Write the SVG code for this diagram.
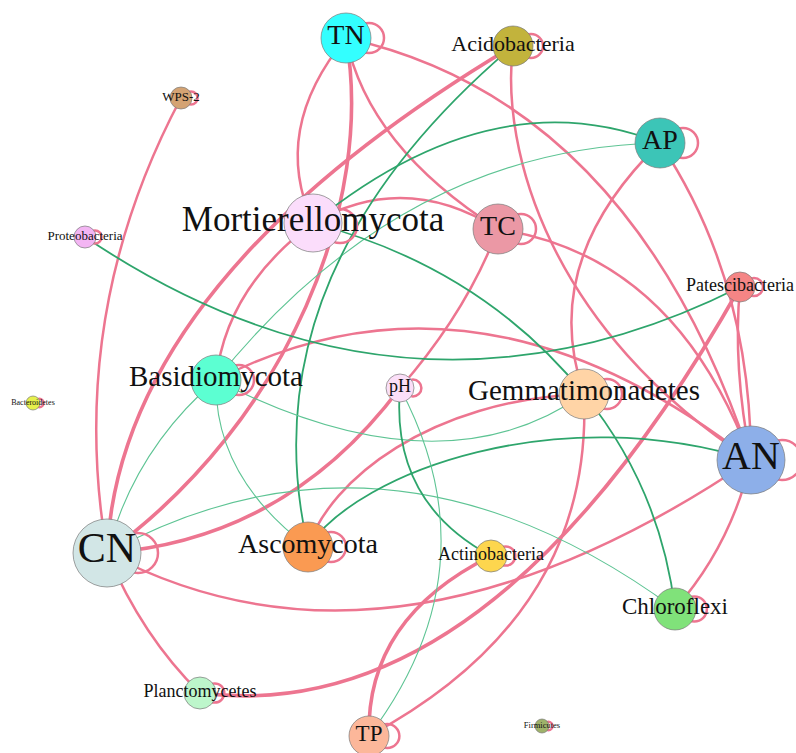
<svg xmlns="http://www.w3.org/2000/svg" width="796" height="753" viewBox="0 0 796 753">
<style>
.e{fill:none;stroke-linecap:round}
.p{stroke:#ED7590;stroke-width:2.5}
.pt{stroke:#ED7590;stroke-width:3.6}
.g{stroke:#2EA56C;stroke-width:1.8}
.gt{stroke:#5EC494;stroke-width:1.1}
.loop{fill:none;stroke:#ED7590;stroke-width:2.5}
.n{stroke:#7a7a7a;stroke-width:0.7}
text{font-family:"Liberation Serif","Times New Roman",serif;fill:#111;text-anchor:middle}
</style>
<rect width="796" height="753" fill="#fff"/>
<g id="connectors">
<path class="e p" d="M346,38 Q270.5,129.5 313,223"/>
<path class="e p" d="M346,38 Q368,146.5 498,229"/>
<path class="e pt" d="M346,38 C375,200 290,420 107,553"/>
<path class="e p" d="M313,223 Q404.5,170 498,229"/>
<path class="e p" d="M498,229 Q467,311.5 400,388"/>
<path class="e p" d="M498,229 Q675.5,255.5 751,460"/>
<path class="e p" d="M346,38 Q631.5,101 751,460"/>
<path class="e p" d="M513,46 C500,150 550,330 751,460"/>
<path class="e p" d="M660,143 Q750.5,278.5 751,460"/>
<path class="e p" d="M740,287 Q732.5,366.5 751,460"/>
<path class="e p" d="M660,143 Q538,261.5 584,394"/>
<path class="e p" d="M216,380 Q476.5,246 751,460"/>
<path class="e p" d="M313,223 Q225.5,288.5 216,380"/>
<path class="e pt" d="M107,553 Q120,280.5 513,46"/>
<path class="e p" d="M181,98 Q66,314.5 107,553"/>
<path class="e pt" d="M107,553 Q286.5,539.5 400,388"/>
<path class="e p" d="M107,553 Q391,703.5 751,460"/>
<path class="e p" d="M107,553 Q142.5,637 200,693"/>
<path class="e pt" d="M200,693 Q490,730 740,287"/>
<path class="e pt" d="M369,736 Q366,618 491,556"/>
<path class="e p" d="M369,736 Q593.5,615 584,394"/>
<path class="e p" d="M751,460 Q731,545.5 675,609"/>
<path class="e p" d="M308,547 C330,480 430,400 584,394"/>
<path class="e g" d="M660,143 Q493.5,77 313,223"/>
<path class="e gt" d="M660,143 Q402,148.5 216,380"/>
<path class="e g" d="M513,46 Q245.5,273.5 308,547"/>
<path class="e g" d="M313,223 Q481.5,267.5 584,394"/>
<path class="e g" d="M85,237 Q407.5,454 740,287"/>
<path class="e gt" d="M216,380 Q134.5,449.5 107,553"/>
<path class="e gt" d="M216,380 Q214,476.5 308,547"/>
<path class="e gt" d="M216,380 Q440,495 584,394"/>
<path class="e gt" d="M107,553 Q389,399 675,609"/>
<path class="e g" d="M308,547 C360,470 560,400 751,460"/>
<path class="e g" d="M400,388 Q390.5,502 491,556"/>
<path class="e gt" d="M400,388 Q495.5,568 369,736"/>
<path class="e g" d="M584,394 Q660.5,488.5 675,609"/>
</g>
<g id="TN"><circle class="loop" cx="369" cy="38" r="15"/><circle class="n" cx="346" cy="38" r="25" fill="#33FFFF"/><text x="346" y="44" font-size="28">TN</text></g>
<g id="Acidobacteria"><circle class="loop" cx="531" cy="46" r="12"/><circle class="n" cx="513" cy="46" r="20" fill="#C2B33C"/><text x="513" y="51" font-size="22">Acidobacteria</text></g>
<g id="WPS-2"><circle class="loop" cx="191" cy="98" r="6.6"/><circle class="n" cx="181" cy="98" r="11" fill="#D4A373"/><text x="181" y="101" font-size="13">WPS-2</text></g>
<g id="AP"><circle class="loop" cx="683" cy="143" r="15"/><circle class="n" cx="660" cy="143" r="25" fill="#3CC5B7"/><text x="660" y="149" font-size="28">AP</text></g>
<g id="Mortierellomycota"><circle class="loop" cx="340" cy="226" r="17"/><circle class="n" cx="313" cy="223" r="29" fill="#FBDDFB"/><text x="313" y="231" font-size="35">Mortierellomycota</text></g>
<g id="TC"><circle class="loop" cx="521" cy="229" r="15"/><circle class="n" cx="498" cy="229" r="25" fill="#EB98A5"/><text x="498" y="235" font-size="28">TC</text></g>
<g id="Proteobacteria"><circle class="loop" cx="95" cy="237" r="6.6"/><circle class="n" cx="85" cy="237" r="11" fill="#F3B5F3"/><text x="85" y="240" font-size="13">Proteobacteria</text></g>
<g id="Patescibacteria"><circle class="loop" cx="754" cy="287" r="9"/><circle class="n" cx="740" cy="287" r="15" fill="#F58585"/><text x="740" y="291" font-size="18">Patescibacteria</text></g>
<g id="Basidiomycota"><circle class="loop" cx="239" cy="380" r="15"/><circle class="n" cx="216" cy="380" r="25" fill="#5CFFD2"/><text x="216" y="386" font-size="29">Basidiomycota</text></g>
<g id="Bacteroidetes"><circle class="loop" cx="39.4" cy="403" r="4.2"/><circle class="n" cx="33" cy="403" r="7" fill="#E6F04C"/><text x="33" y="405" font-size="8">Bacteroidetes</text></g>
<g id="pH"><circle class="loop" cx="413" cy="388" r="8.4"/><circle class="n" cx="400" cy="388" r="14" fill="#FBDFF8"/><text x="400" y="392" font-size="18">pH</text></g>
<g id="Gemmatimonadetes"><circle class="loop" cx="607" cy="394" r="15"/><circle class="n" cx="584" cy="394" r="25" fill="#FFD4A6"/><text x="584" y="400" font-size="29">Gemmatimonadetes</text></g>
<g id="AN"><circle class="loop" cx="782" cy="460" r="20"/><circle class="n" cx="751" cy="460" r="34" fill="#8DAFE9"/><text x="751" y="469" font-size="40">AN</text></g>
<g id="CN"><circle class="loop" cx="138" cy="553" r="20"/><circle class="n" cx="107" cy="553" r="34" fill="#D2E6E6"/><text x="107" y="562" font-size="42">CN</text></g>
<g id="Ascomycota"><circle class="loop" cx="331" cy="547" r="15"/><circle class="n" cx="308" cy="547" r="25" fill="#FA9A52"/><text x="308" y="553" font-size="28">Ascomycota</text></g>
<g id="Actinobacteria"><circle class="loop" cx="505.7" cy="556" r="9.6"/><circle class="n" cx="491" cy="556" r="16" fill="#FDD64E"/><text x="491" y="560" font-size="18">Actinobacteria</text></g>
<g id="Chloroflexi"><circle class="loop" cx="694.3" cy="609" r="12.6"/><circle class="n" cx="675" cy="609" r="21" fill="#80E27A"/><text x="675" y="614" font-size="23">Chloroflexi</text></g>
<g id="Planctomycetes"><circle class="loop" cx="214.7" cy="693" r="9.6"/><circle class="n" cx="200" cy="693" r="16" fill="#BDF6CB"/><text x="200" y="697" font-size="18">Planctomycetes</text></g>
<g id="TP"><circle class="loop" cx="387.4" cy="736" r="12"/><circle class="n" cx="369" cy="736" r="20" fill="#FCB79A"/><text x="369" y="741" font-size="23">TP</text></g>
<g id="Firmicutes"><circle class="loop" cx="548.4" cy="726" r="4.2"/><circle class="n" cx="542" cy="726" r="7" fill="#9FB26A"/><text x="542" y="728" font-size="8.5">Firmicutes</text></g>
</svg>
